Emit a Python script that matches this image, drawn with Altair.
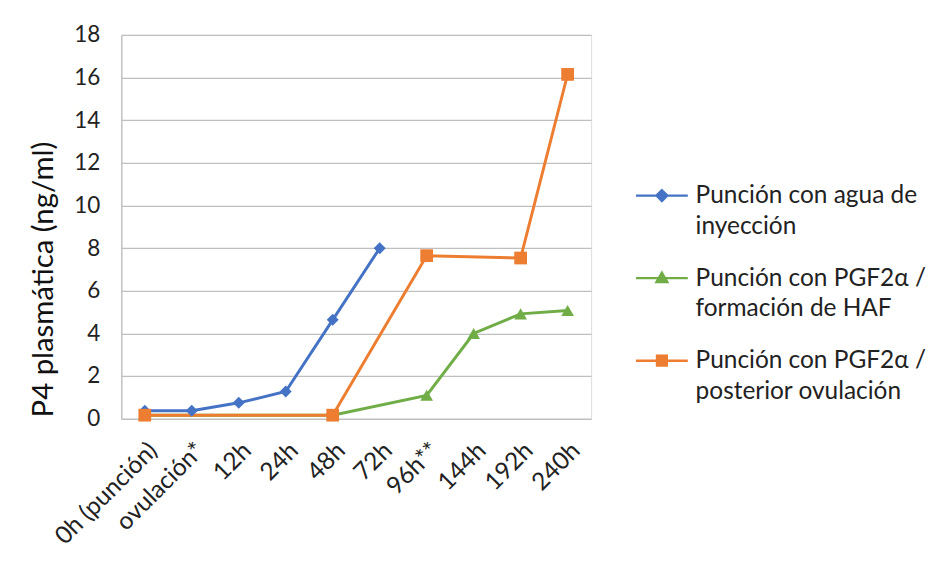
import altair as alt
import pandas as pd

categorias = ["0h (punción)", "ovulación*", "12h", "24h", "48h", "72h",
              "96h**", "144h", "192h", "240h"]
series = ["Punción con agua de inyección",
          "Punción con PGF2α / formación de HAF",
          "Punción con PGF2α / posterior ovulación"]
etiquetas = ["Punción con agua de|inyección",
             "Punción con PGF2α /|formación de HAF",
             "Punción con PGF2α /|posterior ovulación"]
colores = ["#4472C4", "#70AD47", "#ED7D31"]
formas = ["diamond", "triangle-up", "square"]
tamanos = [150, 170, 170]

agua_x = ["0h (punción)", "ovulación*", "12h", "24h", "48h", "72h"]
agua_y = [0.38, 0.38, 0.75, 1.28, 4.64, 8.0]
haf_x = ["0h (punción)", "48h", "96h**", "144h", "192h", "240h"]
haf_y = [0.17, 0.17, 1.1, 4.0, 4.92, 5.08]
ovu_x = ["0h (punción)", "48h", "96h**", "192h", "240h"]
ovu_y = [0.17, 0.17, 7.65, 7.54, 16.15]

rows = []
for i, (xs, ys) in enumerate([(agua_x, agua_y), (haf_x, haf_y), (ovu_x, ovu_y)]):
    for x, y in zip(xs, ys):
        rows.append({"tiempo": x, "p4": y, "serie": series[i], "orden": i})
df = pd.DataFrame(rows)

FONT = "Lato"

x_enc = alt.X("tiempo:N", sort=categorias, scale=alt.Scale(domain=categorias),
              axis=alt.Axis(title=None, labelAngle=-45, labelFontSize=25,
                            labelColor="#222", labelAlign="right", labelBaseline="middle",
                            labelPadding=28, labelOffset=8, ticks=False, domainColor="#bfbfbf",
                            domainWidth=1.3, grid=False, labelFont=FONT))
y_enc = alt.Y("p4:Q", scale=alt.Scale(domain=[0, 18]),
              axis=alt.Axis(title="P4 plasmática (ng/ml)", values=list(range(0, 19, 2)),
                            titleFontSize=30, titleFontWeight="normal", titleColor="#111",
                            titleY=250,
                            labelFontSize=23, labelColor="#222", labelPadding=22,
                            titlePadding=16, ticks=False, domainColor="#bfbfbf",
                            domainWidth=1.3, gridColor="#bfbfbf", gridWidth=1.3,
                            labelFont=FONT, titleFont=FONT))
color_enc = alt.Color("orden:N", scale=alt.Scale(domain=[0, 1, 2], range=colores), legend=None)

lineas = alt.Chart(df).mark_line(strokeWidth=3).encode(
    x=x_enc, y=y_enc, color=color_enc, detail="orden:N", order="orden:Q")

capas_puntos = []
for i, (f, t) in enumerate(zip(formas, tamanos)):
    capas_puntos.append(
        alt.Chart(df).transform_filter(alt.datum.orden == i)
        .mark_point(filled=True, opacity=1, size=t, shape=f)
        .encode(x=x_enc, y=y_enc, color=color_enc)
    )

leyenda_shapes = ["M-5.3,0L5.3,0M0,-1.1L1.1,0L0,1.1L-1.1,0Z",
                  "M-5.3,0L5.3,0M0,-1.1L1.1,0.8L-1.1,0.8Z",
                  "M-5.3,0L5.3,0M-1,-1L1,-1L1,1L-1,1Z"]
label_expr = ("split(datum.label == '" + series[0] + "' ? '" + etiquetas[0] +
              "' : datum.label == '" + series[1] + "' ? '" + etiquetas[1] +
              "' : '" + etiquetas[2] + "', '|')")


def mk_legend():
    return alt.Legend(title=None, orient="none", legendX=541, legendY=152,
                      labelExpr=label_expr, labelFontSize=25, labelFont=FONT,
                      labelColor="#222", symbolSize=100, symbolStrokeWidth=2.5,
                      symbolOpacity=1, labelOffset=22, rowPadding=27.5, labelLimit=400)


leyenda = alt.Chart(df).mark_point(filled=True, opacity=0).encode(
    x=x_enc, y=y_enc,
    fill=alt.Fill("serie:N", scale=alt.Scale(domain=series, range=colores), legend=mk_legend()),
    stroke=alt.Stroke("serie:N", scale=alt.Scale(domain=series, range=colores), legend=mk_legend()),
    shape=alt.Shape("serie:N", scale=alt.Scale(domain=series, range=leyenda_shapes),
                    legend=mk_legend()),
)

chart = alt.layer(lineas, *capas_puntos, leyenda).properties(
    width=481, height=393, padding={"left": 21, "top": 10, "right": 5, "bottom": 5}
).configure_view(stroke=None).configure(
    background="white", style={"guide-label": {"lineHeight": 31}})

chart.save("out.html", embed_options={"renderer": "svg", "actions": False})
